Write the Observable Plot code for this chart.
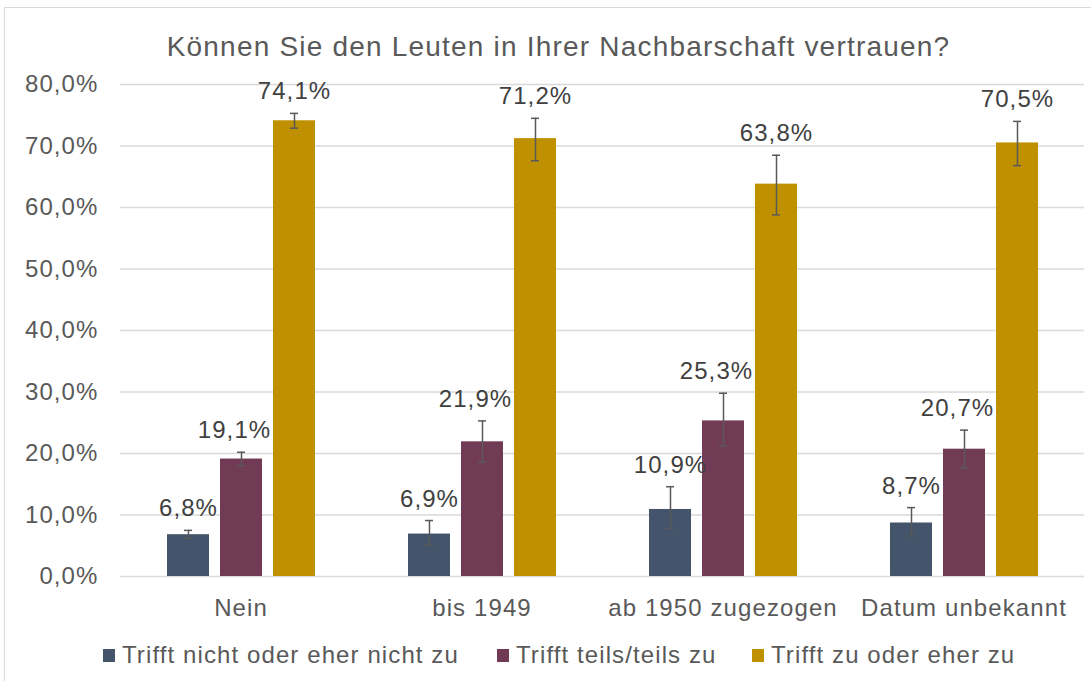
<!DOCTYPE html>
<html>
<head>
<meta charset="utf-8">
<script src="https://cdn.jsdelivr.net/npm/d3@7"></script>
<script src="https://cdn.jsdelivr.net/npm/@observablehq/plot@0.6"></script>
<style>
  html, body { margin: 0; padding: 0; background: #fff; }
  #root { position: relative; width: 1091px; height: 681px; overflow: hidden; font-family: "Liberation Sans", Arial, sans-serif; }
  #frame { position: absolute; left: 4px; top: 7px; width: 1200px; height: 800px; border: 1.5px solid #D9D9D9; box-sizing: border-box; }
  #title { position: absolute; left: 0; top: 31px; width: 1117px; text-align: center; font-size: 28px; letter-spacing: 1.2px; color: #595959; white-space: nowrap; }
  #chart { position: absolute; left: 0; top: 70px; }
  #legend { position: absolute; left: 0; top: 641px; width: 1091px; height: 32px; font-size: 24px; letter-spacing: 1.1px; color: #595959; white-space: nowrap; }
  .item { position: absolute; top: 0; display: flex; align-items: center; }
  .sw { width: 12px; height: 13px; margin-right: 7px; }
</style>
</head>
<body>
<div id="root">
  <div id="frame"></div>
  <div id="title">Können Sie den Leuten in Ihrer Nachbarschaft vertrauen?</div>
  <div id="chart"></div>
  <div id="legend"></div>
</div>
<script>
const categories = ["Nein", "bis 1949", "ab 1950 zugezogen", "Datum unbekannt"];
const seriesNames = ["Trifft nicht oder eher nicht zu", "Trifft teils/teils zu", "Trifft zu oder eher zu"];
const seriesColors = ["#44546A", "#713B55", "#BF9000"];

const nichtZu = [6.8, 6.9, 10.9, 8.7];
const nichtZuLo = [6.2, 5.1, 7.8, 6.6];
const nichtZuHi = [7.5, 9.1, 14.6, 11.2];

const teils = [19.1, 21.9, 25.3, 20.7];
const teilsLo = [18.0, 18.6, 21.2, 17.6];
const teilsHi = [20.2, 25.3, 29.8, 23.8];

const zu = [74.1, 71.2, 63.8, 70.5];
const zuLo = [72.9, 67.6, 58.8, 66.8];
const zuHi = [75.3, 74.5, 68.5, 74.0];

const yTicks = [0, 10, 20, 30, 40, 50, 60, 70, 80];

const seriesValues = [nichtZu, teils, zu];
const seriesLo = [nichtZuLo, teilsLo, zuLo];
const seriesHi = [nichtZuHi, teilsHi, zuHi];

const rows = [];
seriesNames.forEach((s, si) => {
  categories.forEach((c, ci) => {
    rows.push({category: c, series: s, value: seriesValues[si][ci], lo: seriesLo[si][ci], hi: seriesHi[si][ci]});
  });
});

const fmt = v => v.toFixed(1).replace(".", ",") + "%";

const chart = Plot.plot({
  width: 1091,
  height: 560,
  marginLeft: 119,
  marginRight: 7,
  marginTop: 14,
  marginBottom: 54,
  style: {fontFamily: '"Liberation Sans", Arial, sans-serif', color: "#595959", background: "transparent", overflow: "visible", letterSpacing: "1.1px"},
  fx: {domain: categories, padding: 0},
  x: {domain: seriesNames, paddingInner: 0.215, paddingOuter: 0.8625, axis: null},
  y: {domain: [0, 80]},
  color: {domain: seriesNames, range: seriesColors},
  marks: [
    Plot.gridY(yTicks, {stroke: "#D9D9D9", strokeOpacity: 1, strokeWidth: 1.3}),
    Plot.axisY(yTicks, {tickSize: 0, tickPadding: 22, fontSize: 24, fill: "#595959", tickFormat: fmt, label: null}),
    Plot.axisFx({anchor: "bottom", tickSize: 0, tickPadding: 22, fontSize: 24, fill: "#595959", label: null}),
    Plot.barY(rows, {fx: "category", x: "series", y: "value", fill: "series"}),
    Plot.ruleX(rows, {fx: "category", x: "series", y1: "lo", y2: "hi", stroke: "#595959", strokeWidth: 1.5}),
    Plot.tickY(rows, {fx: "category", x: "series", y: "lo", stroke: "#595959", strokeWidth: 1.5, insetLeft: 17, insetRight: 17}),
    Plot.tickY(rows, {fx: "category", x: "series", y: "hi", stroke: "#595959", strokeWidth: 1.5, insetLeft: 17, insetRight: 17}),
    Plot.text(rows.filter(d => d.series !== seriesNames[1]), {fx: "category", x: "series", y: "hi", text: d => fmt(d.value), lineAnchor: "bottom", dy: -14, fontSize: 24, fill: "#404040"}),
    Plot.text(rows.filter(d => d.series === seriesNames[1]), {fx: "category", x: "series", y: "hi", text: d => fmt(d.value), lineAnchor: "bottom", dy: -14, dx: -7, fontSize: 24, fill: "#404040"})
  ]
});
document.getElementById("chart").appendChild(chart);

const legend = document.getElementById("legend");
const legendLeft = [103, 497, 752];
seriesNames.forEach((s, i) => {
  const item = document.createElement("div");
  item.className = "item";
  item.style.left = legendLeft[i] + "px";
  const sw = document.createElement("div");
  sw.className = "sw";
  sw.style.background = seriesColors[i];
  const t = document.createElement("span");
  t.textContent = s;
  item.appendChild(sw);
  item.appendChild(t);
  legend.appendChild(item);
});
</script>
</body>
</html>
